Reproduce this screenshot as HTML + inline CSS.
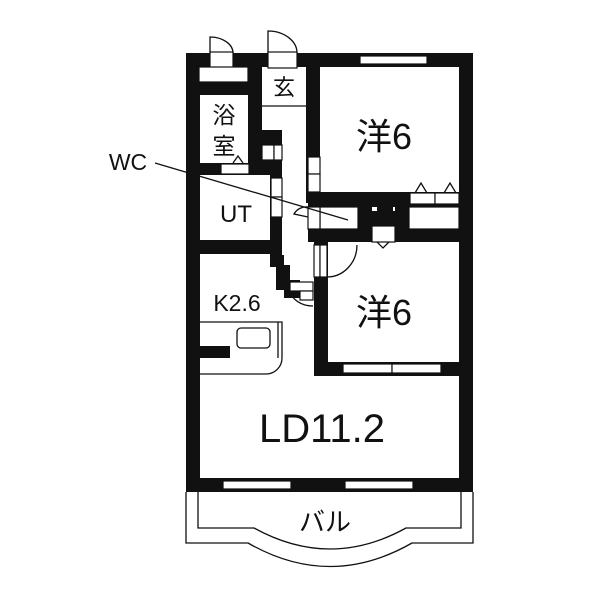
<!DOCTYPE html>
<html><head><meta charset="utf-8"><style>
html,body{margin:0;padding:0;background:#fff;}
svg{display:block}
text{font-family:"Liberation Sans","Noto Sans CJK JP",sans-serif;fill:#111}
</style></head><body>
<svg width="600" height="600" viewBox="0 0 600 600" xmlns="http://www.w3.org/2000/svg">
<rect width="600" height="600" fill="#fff"/>
<g fill="#111">
<!-- outer walls -->
<rect x="186" y="53" width="287" height="14"/>
<rect x="186" y="53" width="14" height="439"/>
<rect x="459" y="53" width="14" height="439"/>
<rect x="186" y="478" width="287" height="14"/>
<!-- bath walls -->
<rect x="186" y="82" width="76" height="13"/>
<rect x="248" y="53" width="14" height="122"/>
<rect x="186" y="163" width="96" height="12"/>
<rect x="262" y="130" width="20" height="45"/>
<!-- UT walls -->
<rect x="186" y="240" width="88" height="14"/>
<rect x="270" y="175" width="12" height="80"/>
<rect x="270" y="255" width="14" height="12"/>
<rect x="276" y="265" width="14" height="25"/>
<rect x="284" y="280" width="16" height="18"/>
<!-- entry / room wall -->
<rect x="306" y="53" width="14" height="150"/>
<rect x="308" y="192" width="151" height="50"/>
<!-- lower room walls -->
<rect x="314" y="242" width="14" height="134"/>
<rect x="314" y="362" width="145" height="14"/>
<!-- kitchen block -->
<rect x="200" y="346" width="30" height="12"/>
</g>
<g fill="#fff" stroke="#111" stroke-width="1.2">
<!-- windows -->
<rect x="360" y="56" width="67" height="8"/>
<rect x="223" y="481" width="68" height="8"/>
<rect x="345" y="481" width="68" height="8"/>
<rect x="343" y="364" width="49" height="9"/>
<rect x="392" y="364" width="49" height="9"/>
<!-- door gaps top -->
<rect x="210" y="52" width="23" height="16"/>
<rect x="268" y="52" width="29" height="16"/>
<rect x="199" y="67" width="49" height="15"/>
<!-- bath door -->
<rect x="221" y="164" width="28" height="10"/>
<!-- closet pieces -->
<rect x="262" y="145" width="12" height="15"/>
<rect x="274" y="145" width="8" height="15"/>
<rect x="308" y="157" width="12" height="17"/>
<rect x="308" y="174" width="12" height="18"/>
<rect x="271" y="178" width="11" height="19"/>
<rect x="271" y="197" width="11" height="20"/>
<rect x="320" y="207" width="38" height="22"/>
<rect x="308" y="207" width="12" height="22"/>
<rect x="409" y="207" width="50" height="22"/>
<rect x="410" y="193" width="25" height="11"/>
<rect x="435" y="193" width="24" height="11"/>
<rect x="372" y="226" width="23" height="16"/>
<rect x="314" y="245" width="6" height="32"/>
<rect x="320" y="245" width="7" height="32"/>
<rect x="290" y="282" width="23" height="9"/>
<rect x="300" y="291" width="13" height="9"/>
</g>
<g fill="#fff">
<rect x="372" y="207" width="5" height="4"/><rect x="393" y="207" width="2" height="4"/>
</g>
<g fill="none" stroke="#111" stroke-width="1.3">
<!-- top door arcs -->
<path d="M210 53 V37 A23 16 0 0 1 233 53"/>
<path d="M268 53 V31 A29 22 0 0 1 297 53"/>
<line x1="262" y1="106" x2="306" y2="106"/>
<!-- triangles -->
<path d="M233 163 L238 156 L243 163"/>
<path d="M415 193 L421 183 L427 193"/>
<path d="M444 193 L450 183 L456 193"/>
<path d="M377 242 L383 248 L389 242"/>
<!-- doors arcs -->
<path d="M308 207 A14 14 0 0 0 294 214 L308 217"/>
<path d="M327 277 A30 32 0 0 0 357 245"/>
<path d="M290 291 A23 18 0 0 0 313 306"/>
<!-- kitchen counter -->
<path d="M200 322 H282 V358 A16 16 0 0 1 266 374 H200"/>
<path d="M278 322 V358"/>
<rect x="237" y="328" width="33" height="20" rx="4"/>
<!-- balcony -->
<path d="M186 492 V543 H248 Q330 590 412 543 H473 V492"/>
<path d="M198 492 V528 H254 Q330 570 406 528 H461 V492"/>
<!-- WC leader -->
<line x1="155" y1="163" x2="348" y2="220"/>
</g>
<text x="384" y="149" font-size="36" text-anchor="middle">洋6</text>
<text x="384" y="325" font-size="36" text-anchor="middle">洋6</text>
<text x="322" y="442" font-size="40" text-anchor="middle">LD11.2</text>
<text x="325" y="531" font-size="26" text-anchor="middle">バル</text>
<text x="237" y="311" font-size="23" text-anchor="middle">K2.6</text>
<text x="236" y="222" font-size="24" text-anchor="middle">UT</text>
<text x="224" y="123" font-size="23" text-anchor="middle">浴</text>
<text x="224" y="154" font-size="23" text-anchor="middle">室</text>
<text x="284" y="95" font-size="22" text-anchor="middle">玄</text>
<text x="128" y="170" font-size="23" text-anchor="middle">WC</text>
</svg>
</body></html>
